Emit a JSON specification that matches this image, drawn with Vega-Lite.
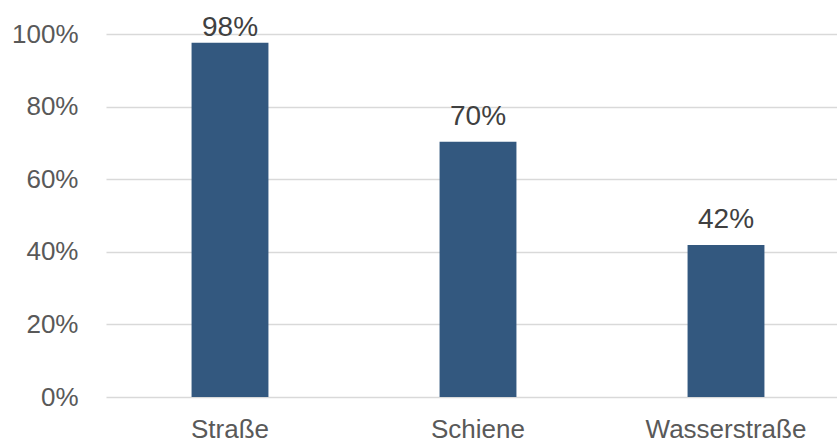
{
  "$schema": "https://vega.github.io/schema/vega-lite/v6.json",
  "autosize": {"type": "none"},
  "padding": {"left": 106, "top": 34, "right": 0, "bottom": 49},
  "width": 744,
  "height": 363,
  "background": "white",
  "config": {
    "view": {"stroke": null},
    "font": "Liberation Sans"
  },
  "data": {
    "values": [
      {"Modus": "Straße", "Anteil": 0.976, "Label": "98%"},
      {"Modus": "Schiene", "Anteil": 0.703, "Label": "70%"},
      {"Modus": "Wasserstraße", "Anteil": 0.419, "Label": "42%"}
    ]
  },
  "encoding": {
    "x": {
      "field": "Modus",
      "type": "nominal",
      "sort": null,
      "scale": {"paddingInner": 0.69, "paddingOuter": 0.345},
      "axis": {
        "title": null,
        "labelAngle": 0,
        "labelFontSize": 26,
        "labelColor": "#595959",
        "labelPadding": 19,
        "domain": false,
        "ticks": false,
        "grid": false
      }
    }
  },
  "layer": [
    {
      "mark": {"type": "bar", "color": "#33587f"},
      "encoding": {
        "y": {
          "field": "Anteil",
          "type": "quantitative",
          "scale": {"domain": [0, 1], "nice": false},
          "axis": {
            "title": null,
            "format": ".0%",
            "values": [0, 0.2, 0.4, 0.6, 0.8, 1],
            "labelFontSize": 26,
            "labelColor": "#595959",
            "labelPadding": 28,
            "domain": false,
            "ticks": false,
            "grid": true,
            "gridColor": "#d9d9d9",
            "gridWidth": 1.5
          }
        }
      }
    },
    {
      "transform": [{"calculate": "min(datum.Anteil, 0.948)", "as": "LabelPos"}],
      "mark": {"type": "text", "fontSize": 28, "color": "#404040", "baseline": "alphabetic", "dy": -17},
      "encoding": {
        "y": {"field": "LabelPos", "type": "quantitative"},
        "text": {"field": "Label"}
      }
    }
  ]
}
